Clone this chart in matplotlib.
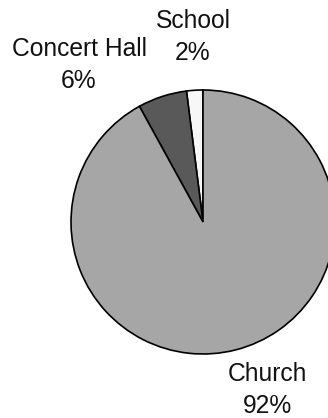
import matplotlib
matplotlib.use("Agg")
import matplotlib.pyplot as plt

# Venue share of performances
venues = ["School", "Concert Hall", "Church"]
shares = [2, 6, 92]
colors = ["#f7f7f7", "#595959", "#a6a6a6"]

# label centres relative to the pie centre, in pixels (x right, y up)
label_offsets = [(-10, 185), (-124, 157), (64, -168)]

W, H = 328, 418
fig = plt.figure(figsize=(W / 100, H / 100), dpi=100)
ax = fig.add_axes([0, 0, 1, 1])

cx, cy, r = 203, 196, 132
ax.pie(shares, colors=colors, startangle=90, counterclock=True,
       center=(cx, cy), radius=r, frame=True,
       wedgeprops=dict(edgecolor="black", linewidth=1.2))
ax.set_xlim(0, W)
ax.set_ylim(0, H)
ax.set_aspect("equal")
ax.axis("off")

for name, val, (dx, dy) in zip(venues, shares, label_offsets):
    ax.text(cx + dx, cy + dy, f"{name}\n{val}%", ha="center", va="center",
            fontsize=17.7, family="Liberation Sans", linespacing=1.43,
            color="#111111")

fig.savefig("out.png", dpi=100)
